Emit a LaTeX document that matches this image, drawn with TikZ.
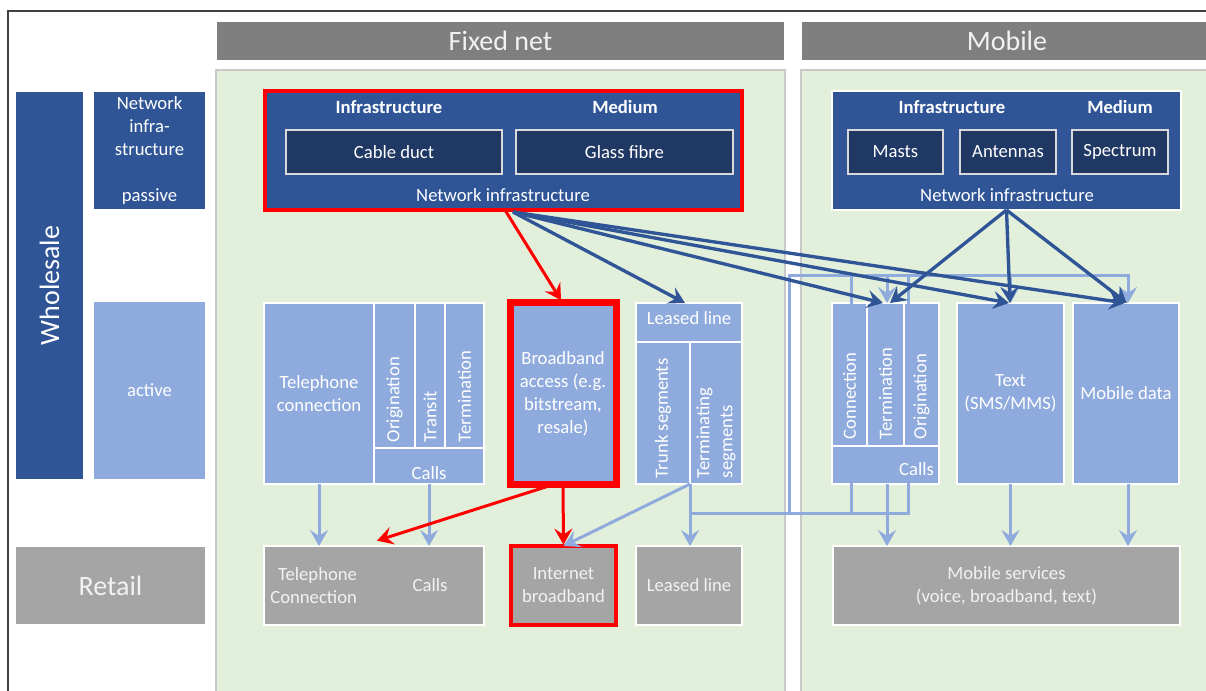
\documentclass[tikz,border=0pt]{standalone}
\usepackage{fontspec}
\setmainfont{Carlito}
\usetikzlibrary{arrows.meta,calc}
\definecolor{dblue}{HTML}{2F5597}
\definecolor{ddblue}{HTML}{203864}
\definecolor{lblue}{HTML}{8FAADC}
\definecolor{hgray}{HTML}{7F7F7F}
\definecolor{rgray}{HTML}{A5A5A5}
\definecolor{pgreen}{HTML}{E2EFDA}
\definecolor{tw}{HTML}{F2F2F2}
\definecolor{pborder}{HTML}{C9C9C9}
\newcommand\bx[7]{\node[#6, minimum width={(#4-#2)*0.75pt}, minimum height={(#5-#3)*0.75pt}] (#1) at ({(#2+#4)/2},{(#3+#5)/2}) {#7};}
\tikzset{
  base/.style={inner sep=0pt, outer sep=0pt, align=center, text=white, font=\fontsize{14}{17.25}\selectfont},
  bigf/.style={font=\fontsize{21}{25}\selectfont},
  boldf/.style={font=\fontsize{14}{17.25}\selectfont\bfseries},
  dbox/.style={base, fill=dblue, draw=white, line width=0.8pt},
  lbox/.style={base, fill=lblue, draw=white, line width=1pt},
  gbox/.style={base, fill=rgray, draw=white, line width=0.8pt, text=tw},
  ibox/.style={base, fill=ddblue, draw=white!85!black, line width=1pt},
  hbox/.style={base, fill=hgray, draw=white, line width=0.8pt, text=tw, bigf},
  panel/.style={fill=pgreen, draw=pborder, line width=0.8pt},
  rot/.style={base, rotate=90, anchor=west, align=left},
  tip/.style={-{Stealth[length=12pt,width=13.5pt,inset=4.5pt]}},
  lb/.style={draw=lblue, line width=2.25pt, line cap=rect},
  lbA/.style={draw=lblue, line width=2.25pt, tip},
  db/.style={draw=dblue, line width=2.5pt, tip},
  rd/.style={draw=red, line width=2.25pt, tip},
}
\begin{document}
\begin{tikzpicture}[x=0.75pt,y=-0.75pt]
\useasboundingbox (0,0) rectangle (1206,691);
% frame
\draw[black!75, line width=0.8pt] (8,700) -- (8,11) -- (1215,11);
% headers and panels
\bx{hfix}{216}{21}{785}{61}{hbox}{Fixed net}
\bx{hmob}{801}{21}{1213}{61}{hbox}{Mobile}
\bx{pfix}{216}{70}{785}{700}{panel}{}
\bx{pmob}{801}{70}{1213}{700}{panel}{}
% left column
\bx{whs}{15}{91}{84}{480}{dbox}{}
\node[base, bigf, rotate=90] (whst) at (whs.center) {Wholesale};
\bx{pas}{93}{91}{206}{210}{dbox}{Network\\infra-\\structure\\[17.25pt]passive}
\bx{act}{93}{301}{206}{480}{lbox}{active}
\bx{ret}{15}{546}{206}{625}{gbox, bigf}{Retail}
% fixed network infrastructure
\bx{fni}{265}{91}{742}{210}{base, fill=dblue, draw=red, line width=3pt}{}
\node[base, boldf] (finf) at (389,107) {Infrastructure};
\node[base, boldf] (fmed) at (625,107) {Medium};
\bx{cable}{286}{130}{502}{174}{ibox}{Cable duct}
\bx{glass}{516}{130}{733}{174}{ibox}{Glass fibre}
\node[base] (fnit) at (503,195) {Network infrastructure};
% mobile network infrastructure
\bx{mni}{832}{91}{1181}{210}{dbox}{}
\node[base, boldf] (minf) at (952,107) {Infrastructure};
\node[base, boldf] (mmed) at (1120,107) {Medium};
\bx{masts}{848}{130}{943}{174}{ibox}{Masts}
\bx{ant}{960}{130}{1056}{174}{ibox}{Antennas}
\bx{spec}{1072}{130}{1168}{174}{ibox}{Spectrum}
\node[base] (mnit) at (1007,195) {Network infrastructure};
% fixed active
\bx{telc}{264}{303}{374}{484}{lbox}{Telephone\\connection}
\bx{orig}{374}{303}{415}{448}{lbox}{}
\bx{trans}{415}{303}{445}{448}{lbox}{}
\bx{term}{445}{303}{484}{448}{lbox}{}
\node[rot] (origt) at ([yshift=4.5pt]orig.south) {Origination};
\node[rot] (transt) at ([yshift=4.5pt]trans.south) {Transit};
\node[rot] (termt) at ([yshift=4.5pt]term.south) {Termination};
\bx{calls}{374}{448}{484}{484}{lbox}{}
\node[base] (callst) at (429,473) {Calls};
\bx{bb}{510}{303}{616}{484}{lbox, draw=red, line width=5.25pt}{Broadband\\access (e.g.\\bitstream,\\resale)}
\bx{ll}{636}{303}{742}{342}{lbox}{}
\node[base] (llt) at (689,318) {Leased line};
\bx{trunk}{636}{342}{690}{484}{lbox}{}
\bx{tseg}{690}{342}{742}{484}{lbox}{}
\node[rot] (trunkt) at ([yshift=4.5pt]trunk.south) {Trunk segments};
\node[rot] (tsegt) at ([yshift=4.5pt]tseg.south) {Terminating\\segments};
% mobile active
\bx{conn}{832}{303}{867}{446}{lbox}{}
\bx{mterm}{867}{303}{904}{446}{lbox}{}
\bx{morig}{904}{303}{939}{446}{lbox}{}
\node[rot] (connt) at ([yshift=5.25pt]conn.south) {Connection};
\node[rot] (mtermt) at ([yshift=5.25pt]mterm.south) {Termination};
\node[rot] (morigt) at ([yshift=5.25pt]morig.south) {Origination};
\bx{mcalls}{832}{446}{939}{484}{lbox}{}
\node[base, anchor=east] (mcallst) at (934,469) {Calls};
\bx{text}{957}{303}{1064}{484}{lbox}{Text\\(SMS/MMS)}
\bx{mdata}{1073}{303}{1179}{484}{lbox}{Mobile data}
% retail
\bx{rtel}{264}{546}{484}{625}{gbox}{}
\node[base, text=tw, align=right, anchor=east] (rtelt) at (357,586) {Telephone\\Connection};
\node[base, text=tw] (rcallt) at (430,585) {Calls};
\bx{rib}{511}{546}{616}{625}{gbox, draw=red, line width=2.6pt}{Internet\\broadband}
\bx{rll}{636}{546}{742}{625}{gbox}{Leased line}
\bx{rms}{833}{546}{1180}{625}{gbox}{Mobile services\\(voice, broadband, text)}
% light blue connectors
\coordinate (b1) at (690,513);
\coordinate (b2) at (908,513);
\coordinate (l1) at (789,513);
\coordinate (l2) at (789,276);
\coordinate (t2) at (1128,276);
\draw[lbA] (telc.south) -- (telc.south |- rtel.north);
\draw[lbA] (calls.south) -- (calls.south |- rtel.north);
\draw[lbA] (trunk.south east) -- (trunk.south east |- rll.north);
\draw[lbA] (trunk.south east) -- (rib.north);
\draw[lb] (b1) -- (b2);
\draw[lb] (mcalls.south -| 851,0) -- (b1 -| 851,0);
\draw[lb] (mcalls.south -| b2) -- (b2);
\draw[lbA] (mcalls.south -| 887,0) -- (rms.north -| 887,0);
\draw[lb] (l1) -- (l2) -- (t2);
\draw[lb] (l2 -| 851,0) -- (conn.north -| 851,0);
\draw[lb] (l2 -| b2) -- (morig.north -| b2);
\draw[lbA] (l2 -| 887,0) -- (mterm.north -| 887,0);
\draw[lbA] (l2 -| text.north) -- (text.north);
\draw[lbA] (t2) -- (t2 |- mdata.north);
\draw[lbA] (text.south) -- (text.south |- rms.north);
\draw[lbA] (mdata.south -| t2) -- (t2 |- rms.north);
% dark blue connectors
\coordinate (fs) at (513,212);
\draw[db] (fs) -- (ll.north -| 685,0);
\draw[db] (fs) -- (mterm.north -| 883,0);
\draw[db] (fs) -- (text.north -| 1009,0);
\draw[db] (fs) -- (mdata.north -| 1125,0);
\draw[db] (mni.south) -- (mterm.north -| 890,0);
\draw[db] (mni.south) -- (text.north -| 1010,0);
\draw[db] (mni.south) -- (mdata.north -| 1127,0);
% red connectors
\draw[rd] (fni.south -| 505,0) -- ([yshift=2pt]bb.north -| 561,0);
\draw[rd] (bb.south -| 555,0) -- ([yshift=4pt]rtel.north -| 377,0);
\draw[rd] (bb.south) -- ([yshift=1pt]rib.north);
\end{tikzpicture}
\end{document}
